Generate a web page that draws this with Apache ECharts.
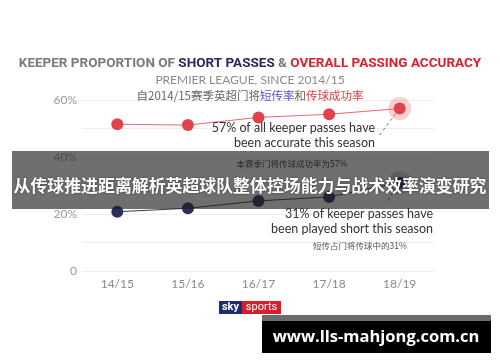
<!DOCTYPE html>
<html><head><meta charset="utf-8">
<script src="https://cdn.jsdelivr.net/npm/echarts@6/dist/echarts.min.js"></script>
<style>html,body{margin:0;padding:0;background:#fff}#c{width:500px;height:362px}</style>
</head><body><div id="c"></div>
<script>
const seasons = ['14/15','15/16','16/17','17/18','18/19'];
const accuracy = [51.5, 51.2, 53.9, 55.0, 57];
const shortShare = [20.8, 22.0, 24.6, 26.0, 31];
const yTicks = [0, 20, 40, 60];

const RED = '#e0434b', NAVY = '#2d2e5c';
const chart = echarts.init(document.getElementById('c'), null, {renderer:'canvas'});
const lastOnly = arr => arr.map((v,i)=> i===arr.length-1 ? v : null);

chart.setOption({
  animation:false,
  backgroundColor:'#fff',
  grid:{left:82,right:65,top:100,bottom:91},
  xAxis:{type:'category',data:seasons,boundaryGap:true,
    axisLine:{show:false},axisTick:{show:false},
    axisLabel:{color:'#8a8a8a',fontSize:12,margin:7,fontFamily:'Lato'}},
  yAxis:{type:'value',min:0,max:60,interval:10,
    axisLine:{show:false},axisTick:{show:false},
    splitLine:{lineStyle:{color:'#efefef',width:1}},
    axisLabel:{color:'#999',fontSize:12,margin:5,fontFamily:'Lato',
      formatter:v=> yTicks.includes(v) ? (v===0?'0':v+'%') : ''}},
  series:[
    {type:'scatter',data:lastOnly(accuracy),symbolSize:23,itemStyle:{color:'rgba(224,67,75,0.3)'},z:1},
    {type:'scatter',data:lastOnly(shortShare),symbolSize:23,itemStyle:{color:'rgba(45,46,92,0.28)'},z:1},
    {type:'line',data:accuracy,symbol:'circle',symbolSize:12,showSymbol:true,
      lineStyle:{color:'#e46a70',width:1},itemStyle:{color:RED},z:3},
    {type:'line',data:shortShare,symbol:'circle',symbolSize:12,
      lineStyle:{color:'#3a3a4a',width:1},itemStyle:{color:NAVY},z:3}
  ]
});

const pA = chart.convertToPixel({seriesIndex:2}, [4, accuracy[4]]);
const pS = chart.convertToPixel({seriesIndex:3}, [4, shortShare[4]]);

chart.setOption({graphic:[
  {type:'text',left:'center',top:57,z:50,style:{
    text:'{g|KEEPER PROPORTION OF }{b|SHORT PASSES}{g| & }{r|OVERALL PASSING ACCURACY}',
    rich:{
      g:{fill:'#7a7a7a',fontSize:13.5,fontWeight:'bold',fontFamily:'Roboto'},
      b:{fill:'#27295f',fontSize:13.5,fontWeight:'bold',fontFamily:'Roboto'},
      r:{fill:'#d8222d',fontSize:13.5,fontWeight:'bold',fontFamily:'Roboto'}}}},
  {type:'text',left:'center',top:74,z:50,style:{text:'PREMIER LEAGUE, SINCE 2014/15',
    fill:'#8a8a8a',fontSize:12,fontFamily:'Lato'}},
  {type:'text',left:'center',top:90,z:50,style:{
    text:'{g|自2014/15赛季英超门将}{b|短传率}{g|和}{r|传球成功率}',
    rich:{
      g:{fill:'#666',fontSize:11.5,fontFamily:'Noto Sans CJK SC'},
      b:{fill:'#5a4fd0',fontSize:11.5,fontFamily:'Noto Sans CJK SC'},
      r:{fill:'#e03a3a',fontSize:11.5,fontFamily:'Noto Sans CJK SC'}}}},
  {type:'line',z:40,shape:{x1:pA[0]-4,y1:pA[1]+5,x2:pA[0]-22,y2:pA[1]+29},
    style:{stroke:'#777',lineWidth:1,lineDash:[3,3]}},
  {type:'line',z:40,shape:{x1:pS[0]-4,y1:pS[1]+5,x2:pS[0]-12,y2:pS[1]+18},
    style:{stroke:'#777',lineWidth:1,lineDash:[3,3]}},
  {type:'text',z:40,x:375,y:135,style:{text:'57% of all keeper passes have\nbeen accurate this season',
    align:'right',verticalAlign:'middle',fill:'#333',fontSize:12.5,lineHeight:15,fontFamily:'Lato'}},
  {type:'text',z:40,x:292,y:164,style:{text:'本赛季门将传球成功率为57%',align:'center',verticalAlign:'middle',
    fill:'#333',fontSize:8.5,fontFamily:'Noto Sans CJK SC'}},
  {type:'text',z:40,x:433,y:221,style:{text:'31% of keeper passes have\nbeen played short this season',
    align:'right',verticalAlign:'middle',fill:'#333',fontSize:12.5,lineHeight:15,fontFamily:'Lato'}},
  {type:'text',z:40,x:360,y:246,style:{text:'短传占门将传球中的31%',align:'center',verticalAlign:'middle',
    fill:'#555',fontSize:8.5,fontFamily:'Noto Sans CJK SC'}},
  {type:'rect',z:100,shape:{x:12,y:151,width:477,height:58},style:{fill:'rgba(30,30,30,0.64)'}},
  {type:'text',z:101,x:250,y:186,style:{text:'从传球推进距离解析英超球队整体控场能力与战术效率演变研究',
    align:'center',verticalAlign:'middle',fill:'#fff',fontSize:16.9,fontWeight:'bold',
    fontFamily:'Noto Sans CJK SC',textShadowColor:'rgba(0,0,0,0.5)',textShadowBlur:2}},
  {type:'rect',z:60,shape:{x:219,y:301,width:23,height:13},style:{fill:'#1c2c6e'}},
  {type:'rect',z:60,shape:{x:242,y:301,width:39,height:13},style:{fill:'#d51f2c'}},
  {type:'text',z:61,x:230.5,y:307.5,style:{text:'sky',align:'center',verticalAlign:'middle',fill:'#fff',
    fontSize:11,fontWeight:'bold',fontFamily:'Roboto'}},
  {type:'text',z:61,x:261.5,y:307.5,style:{text:'sports',align:'center',verticalAlign:'middle',fill:'#fff',
    fontSize:11,fontFamily:'Roboto'}},
  {type:'rect',z:60,shape:{x:262,y:315,width:229,height:6},style:{fill:'#6b6b6b'}},
  {type:'rect',z:60,shape:{x:262,y:321,width:229,height:32},style:{fill:'#000'}},
  {type:'text',z:61,x:376,y:337,style:{text:'www.lls-mahjong.com.cn',align:'center',verticalAlign:'middle',
    fill:'#fff',fontSize:16.5,fontWeight:'bold',fontFamily:'Open Sans'}}
]});
</script></body></html>
